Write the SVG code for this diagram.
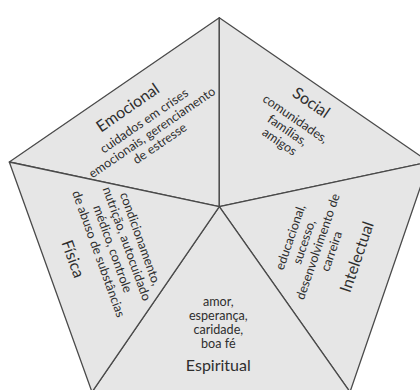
<svg xmlns="http://www.w3.org/2000/svg" width="420" height="390" viewBox="0 0 420 390">
<style>
.sec{fill:#e6e6e6;stroke:#4a4a4a;stroke-width:1.3;stroke-linejoin:round}
text{font-family:Lato,"Open Sans","Liberation Sans",sans-serif;fill:#2e2e2e;text-anchor:middle}
.t{font-size:16px}
.b{font-size:12.6px}
</style>
<rect width="420" height="390" fill="#fff"/>
<g id="emocional">
<polygon class="sec" points="9.3,162 219.3,17.7 219.3,206.7"/>
<g transform="translate(128,108) rotate(-34.5)">
<text class="t" x="0" y="5">Emocional</text>
<text class="b" x="6" y="24">cuidados em crises</text>
<text class="b" x="6" y="38">emocionais, gerenciamento</text>
<text class="b" x="6" y="51.5">de estresse</text>
</g>
</g>
<g id="social">
<polygon class="sec" points="219.3,17.7 429,162 219.3,206.7"/>
<g transform="translate(311,103) rotate(34.5)">
<text class="t" x="0" y="5">Social</text>
<text class="b" x="-4" y="26">comunidades,</text>
<text class="b" x="-4" y="40">famílias,</text>
<text class="b" x="-4" y="54">amigos</text>
</g>
</g>
<g id="intelectual">
<polygon class="sec" points="429,162 350,392 219.3,206.7"/>
<g transform="translate(290.8,238.3) rotate(-71)">
<text class="b" x="1" y="3.5">educacional,</text>
<text class="b" x="1" y="18">sucesso,</text>
<text class="b" x="1" y="32.5">desenvolvimento de</text>
<text class="b" x="1" y="47">carreira</text>
<text class="t" x="4" y="74">Intelectual</text>
</g>
</g>
<g id="espiritual">
<polygon class="sec" points="350,392 92,392 219.3,206.7"/>
<text class="b" x="218.3" y="306">amor,</text>
<text class="b" x="218.3" y="320">esperança,</text>
<text class="b" x="218.3" y="334">caridade,</text>
<text class="b" x="218.3" y="348">boa fé</text>
<text class="t" x="218.3" y="371">Espiritual</text>
</g>
<g id="fisica">
<polygon class="sec" points="92,392 9.3,162 219.3,206.7"/>
<g transform="translate(140,240) rotate(70.2)">
<text class="b" x="-1" y="3.5">condicionamento,</text>
<text class="b" x="-1" y="18">nutrição, autocuidado</text>
<text class="b" x="-1" y="33">médico, controle</text>
<text class="b" x="-1" y="48">de abuso de substâncias</text>
<text class="t" x="-5" y="75">Física</text>
</g>
</g>
<g id="connectors"/>
</svg>
